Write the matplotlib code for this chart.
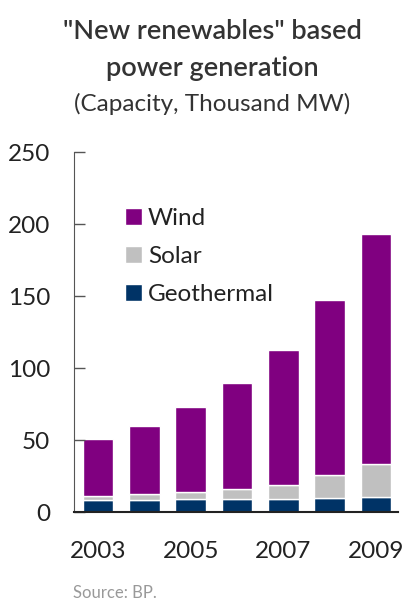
import numpy as np
import matplotlib.pyplot as plt

plt.rcParams['font.family'] = ['Lato', 'DejaVu Sans']

years = [2003, 2004, 2005, 2006, 2007, 2008, 2009]
geothermal = [8.0, 8.3, 8.7, 9.0, 9.3, 9.8, 10.2]
solar = [3.0, 4.2, 5.4, 7.0, 9.5, 16.0, 23.3]
wind = [39.7, 47.5, 59.0, 73.8, 93.5, 121.5, 159.3]
tick_years = ["2003", "", "2005", "", "2007", "", "2009"]

fig = plt.figure(figsize=(4.08, 6.02), dpi=100)
ax = fig.add_axes([0.181, 0.1495, 0.794, 0.598])

x = np.arange(len(years))
w = 0.66
geo = np.array(geothermal)
sol = np.array(solar)
ax.bar(x, geo, w, color="#003366", edgecolor="white", linewidth=1, label="Geothermal")
ax.bar(x, sol, w, bottom=geo, color="#c0c0c0", edgecolor="white", linewidth=1, label="Solar")
ax.bar(x, wind, w, bottom=geo + sol, color="#800080", edgecolor="white", linewidth=1, label="Wind")

ax.set_xlim(-0.52, 6.47)
ax.set_ylim(0, 250)
ax.set_yticks([0, 50, 100, 150, 200, 250])
ax.set_xticks(x)
ax.set_xticklabels(tick_years)
ax.tick_params(axis="x", length=0, labelsize=17.5, pad=21, colors="#222222")
ax.tick_params(axis="y", direction="in", length=8, width=1, labelsize=17.5, pad=17,
               colors="#555555", labelcolor="#222222")
for s in ["top", "right"]:
    ax.spines[s].set_visible(False)
ax.spines["left"].set_color("#555555")
ax.spines["bottom"].set_color("#222222")
ax.spines["bottom"].set_linewidth(1.5)

h, l = ax.get_legend_handles_labels()
ax.legend(h[::-1], l[::-1], loc="upper left", bbox_to_anchor=(0.09, 0.905),
          frameon=False, fontsize=17.5, handlelength=0.7, handleheight=0.7,
          labelspacing=0.7, handletextpad=0.25, labelcolor="#222222")

fig.text(0.52, 0.947, "\"New renewables\" based", ha="center", va="center", fontsize=19.5,
         fontweight="semibold", color="#333333")
fig.text(0.52, 0.887, "power generation", ha="center", va="center", fontsize=19.5,
         fontweight="semibold", color="#333333")
fig.text(0.52, 0.827, "(Capacity, Thousand MW)", ha="center", va="center", fontsize=17.5,
         color="#333333")
fig.text(0.179, 0.002, "Source: BP.", ha="left", va="bottom", fontsize=12,
         color="#999999")

fig.savefig("out.png", dpi=100)
